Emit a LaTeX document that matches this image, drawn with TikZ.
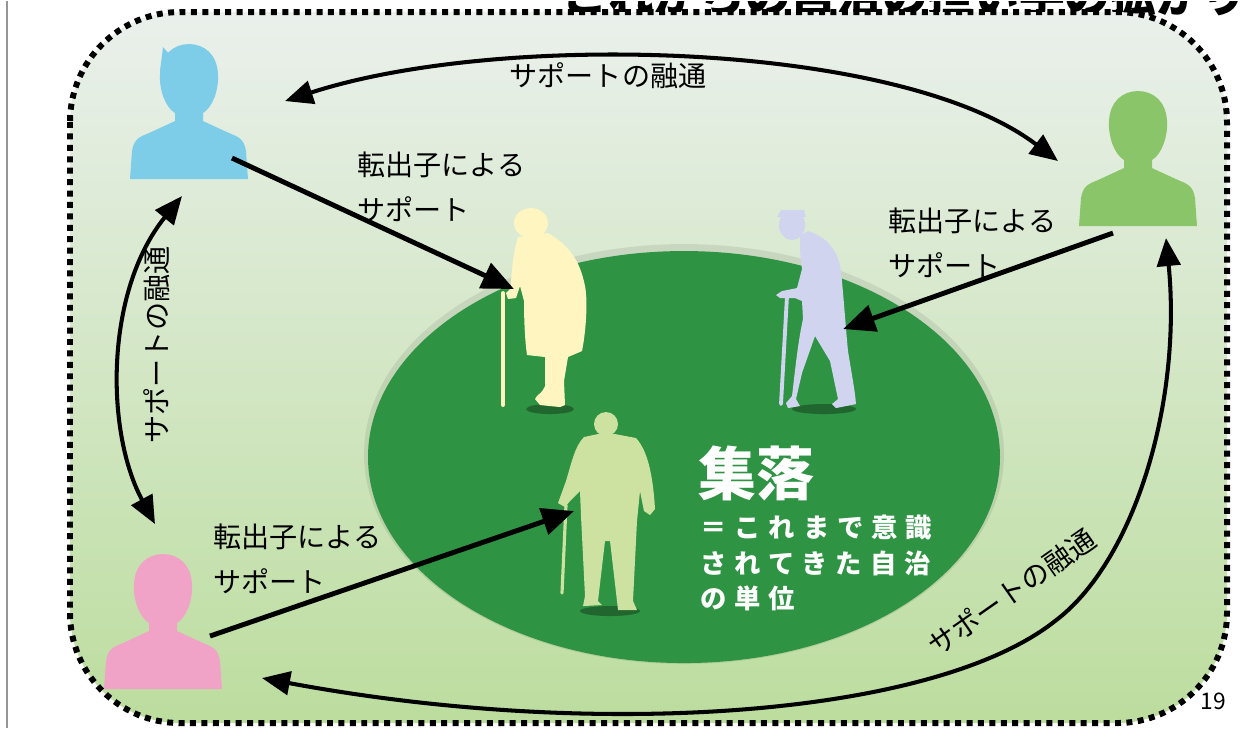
\documentclass[tikz,border=0pt]{standalone}
\usepackage{fontspec}
\setmainfont{Noto Sans CJK JP}
\newfontfamily\spacedjp[LetterSpace=30]{Noto Sans CJK JP}
\usetikzlibrary{arrows.meta}

\definecolor{bgtop}{RGB}{234,240,236}
\definecolor{bgbot}{RGB}{188,221,158}
\definecolor{fieldgreen}{RGB}{46,147,67}
\definecolor{kidblue}{RGB}{125,204,232}
\definecolor{kidgreen}{RGB}{139,197,106}
\definecolor{kidpink}{RGB}{240,163,198}
\definecolor{eldyellow}{RGB}{255,245,192}
\definecolor{eldlilac}{RGB}{208,212,238}
\definecolor{eldgreen}{RGB}{205,226,160}
\definecolor{pagegray}{RGB}{150,150,150}

\begin{document}
\begin{tikzpicture}[x=0.02cm,y=-0.02cm,
	lbl/.style={font=\fontsize{16}{25.5}\selectfont, align=left, inner sep=0pt},
	push/.style={line width=2.8pt, -{Triangle[length=0.64cm,width=0.54cm]}},
	swap/.style={line width=2.3pt, {Triangle[length=0.56cm,width=0.47cm]}-{Triangle[length=0.56cm,width=0.47cm]}},
	pics/bust/.style={code={
		\fill[#1] (-59,0) -- (-57,-28) .. controls (-55,-40) and (-50,-42) .. (-40,-46) -- (-14,-58) -- (-14,-66)
			.. controls (-24,-72) and (-30,-90) .. (-29,-105) .. controls (-28,-125) and (-15,-135) .. (0,-135)
			.. controls (15,-135) and (28,-125) .. (29,-105) .. controls (30,-90) and (24,-72) .. (14,-66)
			-- (14,-58) -- (40,-46) .. controls (50,-42) and (55,-40) .. (57,-28) -- (59,0) -- cycle;
	}}
]
\fill[white] (0,0) rectangle (1244,727);
\draw[pagegray, line width=1.2pt] (7,0) -- (7,727);
\clip (0,0) rectangle (1244,727);

% heading, mostly cut by the page edge
\node[anchor=base west, inner sep=0pt, font=\fontsize{26}{26}\selectfont\bfseries] (ttl) at (562,11) {これからの自治の担い手の拡がり};

% frame
\shade[top color=bgtop, bottom color=bgbot, rounded corners=2.2cm] (70,11) rectangle (1227,722);
\draw[line width=3.4pt, dash pattern=on 3.4pt off 3.1pt, rounded corners=2.2cm] (70,11) rectangle (1227,722);

% village field
\fill[black, opacity=0.08] (684,453) ellipse (320 and 210);
\fill[fieldgreen] (684,456) ellipse (316 and 206);

% shadows under the feet
\fill[black, opacity=0.3] (550,408) ellipse (24 and 5);
\fill[black, opacity=0.3] (824,408) ellipse (32 and 5);
\fill[black, opacity=0.3] (610,610) ellipse (30 and 5);

% old woman
\fill[eldyellow] (531,222) ellipse (17 and 15);
\fill[eldyellow] (518,236) .. controls (512,255) and (512,275) .. (510,288) -- (506,292) -- (508,298) -- (516,297) -- (520,285)
	-- (524,300) .. controls (524,320) and (525,340) .. (527,354) -- (545,356) -- (545,385)
	.. controls (543,392) and (536,394) .. (535,398) -- (540,404) -- (560,406) -- (565,404) -- (564,380) -- (568,356)
	-- (582,350) .. controls (586,330) and (588,300) .. (585,285) .. controls (580,260) and (570,245) .. (548,232) -- cycle;
\draw[eldyellow, line width=2.2pt, line cap=round] (503,292) -- (503,404);

% old man, bent
\fill[eldlilac] (792,224) ellipse (13 and 15);
\fill[eldlilac] (777,216) -- (781,209) -- (804,209) -- (806,216) -- cycle;
\fill[eldlilac] (800,235) -- (808,230) .. controls (825,235) and (838,248) .. (841,270) .. controls (844,300) and (846,330) .. (848,350)
	.. controls (852,375) and (855,390) .. (856,403) -- (836,407) -- (832,403) -- (838,398) -- (830,360) -- (815,335)
	-- (802,372) -- (796,398) -- (800,405) -- (788,407) -- (786,402) -- (792,395) .. controls (795,370) and (798,340) .. (803,318)
	-- (802,300) -- (795,297) -- (780,297) -- (776,294) -- (782,290) -- (797,287) -- (802,268) -- (800,250) -- cycle;
\draw[eldlilac, line width=2.2pt, line cap=round] (787,295) -- (781,403);

% old man, upright
\fill[eldgreen] (606,423) circle (12);
\fill[eldgreen] (584,436) -- (598,433) -- (615,433) -- (636,437) .. controls (648,450) and (653,475) .. (655,508) -- (650,514)
	-- (644,510) -- (640,490) -- (637,520) -- (633,600) -- (637,609) -- (618,609) -- (617,600) -- (610,540) -- (605,540)
	-- (598,600) -- (602,604) -- (583,605) -- (585,595) -- (581,515) -- (580,490) -- (570,500) -- (565,506) -- (558,502)
	-- (566,480) .. controls (572,460) and (575,445) .. (584,436) -- cycle;
\draw[eldgreen, line width=1.8pt, line cap=round] (566,504) -- (562,592);

% children who moved away
\pic at (189,178) {bust=kidblue};
\fill[kidblue] (160,70) -- (163,46) -- (172,56) -- (188,50) -- (214,58) -- (218,80) -- cycle;
\pic at (1138,225) {bust=kidgreen};
\pic at (163,688) {bust=kidpink};

\coordinate (ko1) at (232,157);
\coordinate (ko2) at (1113,232);
\coordinate (ko3) at (210,635);
\coordinate (el1) at (514,288);
\coordinate (el2) at (843,328);
\coordinate (el3) at (574,510);
\draw[push] (ko1) -- (el1);
\draw[push] (ko2) -- (el2);
\draw[push] (ko3) -- (el3);

% exchange between the children
\coordinate (topL) at (285,100);
\coordinate (topR) at (1058,160);
\coordinate (lftT) at (182,195);
\coordinate (lftB) at (155,523);
\coordinate (rgtT) at (1166,237);
\coordinate (rgtB) at (262,677);
\draw[swap] (topL) .. controls (500,30) and (900,40) .. (topR);
\draw[swap] (lftT) .. controls (105,290) and (105,430) .. (lftB);
\draw[swap] (rgtT) .. controls (1182,400) and (1135,560) .. (1055,620) .. controls (935,715) and (600,740) .. (rgtB);

\node[lbl, anchor=west] (t1) at (357,186) {転出子による\\サポート};
\node[lbl, anchor=west] (t2) at (888,242) {転出子による\\サポート};
\node[lbl, anchor=west] (t3) at (213,558) {転出子による\\サポート};
\node[lbl] (m1) at (608,75) {サポートの融通};
\node[lbl, rotate=90] (m2) at (157,344) {サポートの融通};
\node[lbl, rotate=35] (m3) at (1012,591) {サポートの融通};

\node[white, anchor=west, inner sep=0pt, font=\fontsize{33}{33}\selectfont\bfseries] (shu) at (698,472) {集落};
\node[white, anchor=north west, inner sep=0pt, align=left, font=\spacedjp\bfseries\fontsize{15}{20}\selectfont] (def) at (700,514) {＝これまで意識\\されてきた自治\\の単位};

\node[font=\fontsize{13}{13}\selectfont] (pg) at (1213,700) {19};
\end{tikzpicture}
\end{document}
